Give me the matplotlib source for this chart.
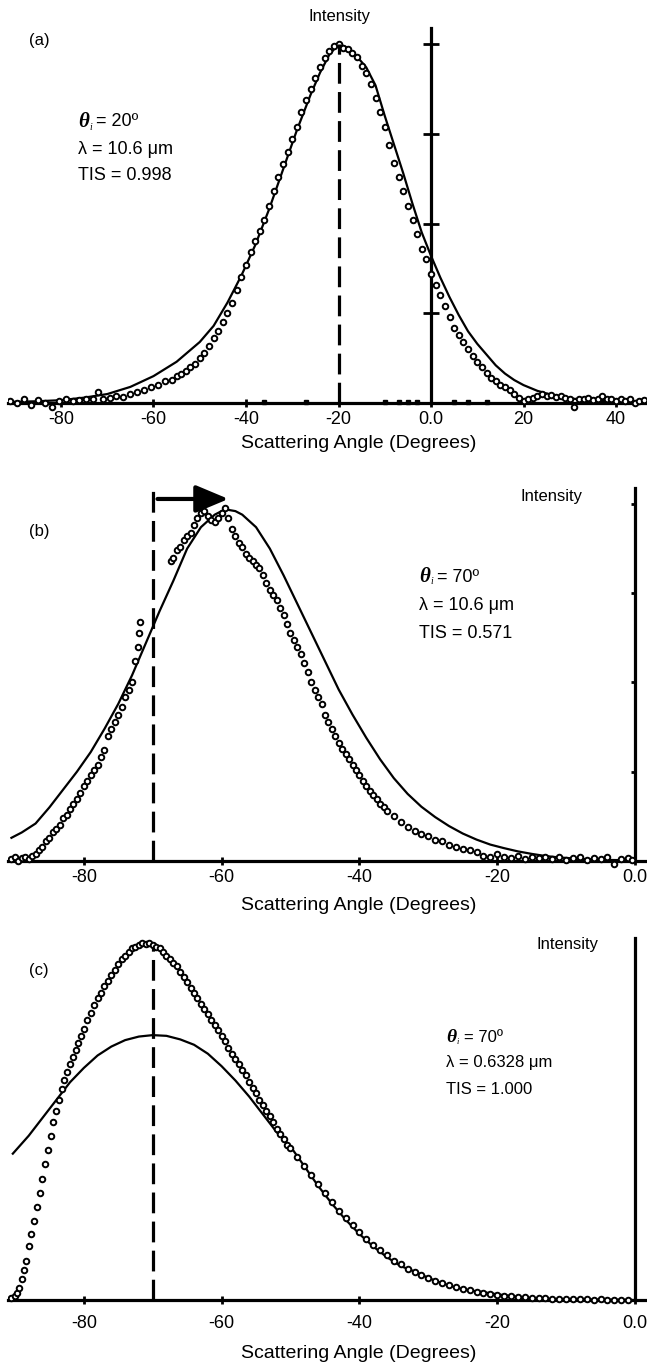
import matplotlib
matplotlib.use("Agg")
import matplotlib.pyplot as plt

plt.rcParams['font.family'] = ['Liberation Sans', 'DejaVu Sans']
plt.rcParams['axes.unicode_minus'] = False

# ---- panel (a): theta_i = 20 deg, lambda = 10.6 um ----
a_data_x = [-91, -89.5, -88, -86.5, -85, -83.5, -82, -80.5, -79, -77.5, -76, -74.5, -73, -72, -71,
            -69.5, -68, -66.5, -65, -63.5, -62, -60.5, -59, -57.5, -56, -55, -54, -53, -52, -51,
            -50, -49, -48, -47, -46, -45, -44, -43, -42, -41, -40, -39, -38, -37, -36, -35, -34,
            -33, -32, -31, -30, -29, -28, -27, -26, -25, -24, -23, -22, -21, -20, -19, -18, -17,
            -16, -15, -14, -13, -12, -11, -10, -9, -8, -7, -6, -5, -4, -3, -2, -1, 0, 1, 2, 3, 4,
            5, 6, 7, 8, 9, 10, 11, 12, 13, 14, 15, 16, 17, 18, 19, 20, 21, 22, 23, 24, 25, 26, 27,
            28, 29, 30, 31, 32, 33, 34, 35, 36, 37, 38, 39, 40, 41, 42, 43, 44, 45, 46]
a_data_y = [0.005, 0.0, 0.01, -0.005, 0.008, 0.0, -0.01, 0.005, 0.01, 0.005, 0.008, 0.01, 0.012, 0.03,
            0.012, 0.015, 0.02, 0.018, 0.025, 0.03, 0.035, 0.045, 0.05, 0.06, 0.065, 0.075, 0.08,
            0.09, 0.1, 0.11, 0.125, 0.14, 0.16, 0.18, 0.2, 0.225, 0.25, 0.28, 0.315, 0.35, 0.385,
            0.42, 0.45, 0.48, 0.51, 0.55, 0.59, 0.63, 0.665, 0.7, 0.735, 0.77, 0.81, 0.845, 0.875,
            0.905, 0.935, 0.96, 0.98, 0.995, 1.0, 0.99, 0.985, 0.975, 0.965, 0.94, 0.92, 0.89, 0.85,
            0.81, 0.77, 0.72, 0.67, 0.63, 0.59, 0.55, 0.51, 0.47, 0.43, 0.4, 0.36, 0.33, 0.3, 0.27,
            0.24, 0.21, 0.19, 0.17, 0.15, 0.13, 0.115, 0.1, 0.085, 0.07, 0.06, 0.05, 0.045, 0.035,
            0.025, 0.015, 0.005, 0.01, 0.015, 0.02, 0.025, 0.02, 0.022, 0.018, 0.02, 0.015, 0.01,
            -0.012, 0.012, 0.01, 0.015, 0.008, 0.012, 0.02, 0.01, 0.012, 0.005, 0.01, 0.005, 0.01,
            0.0, 0.005, 0.008]
a_base_x = [-36, -27, -10, -7, -5, -3, 5, 8, 12]
a_base_y = [0.003, 0.004, 0.002, 0.004, 0.003, 0.004, 0.002, 0.003, 0.004]
a_fit_x = [-91.5, -85, -80, -75, -70, -65, -60, -55, -50, -47, -44, -41, -38, -35, -32, -29, -26,
           -24, -22, -20, -18, -16, -14, -12, -10, -8, -6, -4, -2, 0, 2, 4, 6, 8, 10, 12, 14, 16,
           18, 20, 23, 26, 30, 35, 40, 46.5]
a_fit_y = [0.003, 0.005, 0.008, 0.015, 0.025, 0.045, 0.075, 0.115, 0.17, 0.215, 0.28, 0.355, 0.44,
           0.54, 0.65, 0.76, 0.86, 0.92, 0.97, 1.0, 0.99, 0.965, 0.935, 0.885, 0.8, 0.72, 0.64,
           0.555, 0.475, 0.41, 0.35, 0.295, 0.245, 0.2, 0.165, 0.135, 0.105, 0.082, 0.064, 0.05,
           0.034, 0.023, 0.013, 0.007, 0.004, 0.002]

# ---- panel (b): theta_i = 70 deg, lambda = 10.6 um ----
b_data_x = [-90.5, -90, -89.5, -89, -88.5, -88, -87.5, -87, -86.5, -86, -85.5, -85, -84.5, -84,
            -83.5, -83, -82.5, -82, -81.5, -81, -80.5, -80, -79.5, -79, -78.5, -78, -77.5, -77,
            -76.5, -76, -75.5, -75, -74.5, -74, -73.5, -73, -72.5, -72.2, -72, -71.8,
            -67.3, -67, -66.5, -66, -65.5, -65, -64.5, -64, -63.5, -63, -62.5, -62, -61.5, -61,
            -60.5, -60, -59.5, -59, -58.5, -58, -57.5, -57, -56.5, -56, -55.5, -55, -54.5, -54,
            -53.5, -53, -52.5, -52, -51.5, -51, -50.5, -50, -49.5, -49, -48.5, -48, -47.5, -47,
            -46.5, -46, -45.5, -45, -44.5, -44, -43.5, -43, -42.5, -42, -41.5, -41, -40.5, -40,
            -39.5, -39, -38.5, -38, -37.5, -37, -36.5, -36, -35, -34, -33, -32, -31, -30, -29,
            -28, -27, -26, -25, -24, -23, -22, -21, -20, -19, -18, -17, -16, -15, -14, -13, -12,
            -11, -10, -9, -8, -7, -6, -5, -4, -3, -2, -1, -0.5]
b_data_y = [0.005, 0.01, 0.0, 0.008, 0.012, 0.005, 0.015, 0.02, 0.03, 0.04, 0.055, 0.065, 0.08,
            0.09, 0.1, 0.12, 0.13, 0.145, 0.16, 0.175, 0.19, 0.21, 0.225, 0.24, 0.255, 0.27, 0.29,
            0.31, 0.35, 0.37, 0.39, 0.41, 0.43, 0.46, 0.48, 0.5, 0.56, 0.6, 0.64, 0.67,
            0.84, 0.85, 0.87, 0.88, 0.9, 0.91, 0.92, 0.94, 0.96, 0.975, 0.98, 0.965, 0.955, 0.95,
            0.96, 0.975, 0.99, 0.96, 0.93, 0.91, 0.89, 0.88, 0.86, 0.85, 0.84, 0.83, 0.82, 0.8,
            0.78, 0.76, 0.745, 0.73, 0.71, 0.69, 0.665, 0.64, 0.62, 0.6, 0.58, 0.555, 0.53, 0.5,
            0.48, 0.46, 0.44, 0.41, 0.39, 0.37, 0.35, 0.33, 0.315, 0.3, 0.285, 0.27, 0.255, 0.24,
            0.225, 0.21, 0.195, 0.185, 0.175, 0.16, 0.15, 0.14, 0.125, 0.11, 0.095, 0.085, 0.075,
            0.07, 0.06, 0.055, 0.045, 0.04, 0.035, 0.03, 0.025, 0.015, 0.01, 0.02, 0.012, 0.008,
            0.015, 0.005, 0.01, 0.008, 0.012, 0.005, 0.01, 0.004, 0.008, 0.01, 0.003, 0.008, 0.005,
            0.01, -0.008, 0.005, 0.008, 0.004]
b_fit_x = [-90.5, -89, -87, -85, -83, -81, -79, -77, -75, -73, -71, -69, -67, -65, -63, -61,
           -59.5, -58, -57, -55, -53, -51, -49, -47, -45, -43, -41, -39, -37, -35, -33, -31, -29,
           -27, -25, -23, -21, -19, -17, -15, -13, -11, -8, -4, 0]
b_fit_y = [0.065, 0.08, 0.105, 0.15, 0.2, 0.25, 0.305, 0.37, 0.44, 0.52, 0.61, 0.7, 0.785, 0.875,
           0.935, 0.97, 0.985, 0.98, 0.97, 0.935, 0.875, 0.8, 0.72, 0.64, 0.56, 0.48, 0.41,
           0.345, 0.285, 0.232, 0.188, 0.152, 0.123, 0.098, 0.077, 0.06, 0.046, 0.036, 0.027,
           0.02, 0.014, 0.01, 0.006, 0.003, 0.002]

# ---- panel (c): theta_i = 70 deg, lambda = 0.6328 um ----
c_data_x = [-90.5, -90, -89.7, -89.4, -89, -88.7, -88.4, -88, -87.6, -87.2, -86.8, -86.4, -86,
            -85.6, -85.2, -84.8, -84.4, -84, -83.6, -83.2, -82.8, -82.4, -82, -81.6, -81.2,
            -80.8, -80.4, -80, -79.5, -79, -78.5, -78, -77.5, -77, -76.5, -76, -75.5, -75, -74.5,
            -74, -73.5, -73, -72.5, -72, -71.5, -71, -70.5, -70, -69.5, -69, -68.5, -68, -67.5,
            -67, -66.5, -66, -65.5, -65, -64.5, -64, -63.5, -63, -62.5, -62, -61.5, -61, -60.5,
            -60, -59.5, -59, -58.5, -58, -57.5, -57, -56.5, -56, -55.5, -55, -54.5, -54, -53.5,
            -53, -52.5, -52, -51.5, -51, -50.5, -50, -49, -48, -47, -46, -45, -44, -43, -42, -41,
            -40, -39, -38, -37, -36, -35, -34, -33, -32, -31, -30, -29, -28, -27, -26, -25, -24,
            -23, -22, -21, -20, -19, -18, -17, -16, -15, -14, -13, -12, -11, -10, -9, -8, -7, -6,
            -5, -4, -3, -2, -1]
c_data_y = [0.005, 0.01, 0.02, 0.035, 0.06, 0.085, 0.11, 0.15, 0.185, 0.22, 0.26, 0.3, 0.34,
            0.38, 0.42, 0.46, 0.5, 0.53, 0.56, 0.59, 0.615, 0.64, 0.66, 0.68, 0.7, 0.72, 0.74,
            0.76, 0.785, 0.805, 0.825, 0.845, 0.86, 0.88, 0.895, 0.91, 0.925, 0.94, 0.955, 0.965,
            0.975, 0.985, 0.99, 0.995, 1.0, 0.998, 1.0, 0.995, 0.99, 0.985, 0.975, 0.965, 0.955,
            0.945, 0.935, 0.92, 0.905, 0.89, 0.875, 0.86, 0.845, 0.83, 0.815, 0.8, 0.785, 0.77,
            0.755, 0.74, 0.725, 0.705, 0.69, 0.675, 0.66, 0.645, 0.63, 0.61, 0.595, 0.58, 0.56,
            0.545, 0.53, 0.515, 0.5, 0.48, 0.465, 0.45, 0.435, 0.425, 0.4, 0.375, 0.35, 0.325, 0.3,
            0.275, 0.25, 0.23, 0.21, 0.19, 0.17, 0.155, 0.14, 0.125, 0.11, 0.1, 0.088, 0.078, 0.07,
            0.062, 0.054, 0.047, 0.041, 0.036, 0.031, 0.027, 0.023, 0.02, 0.017, 0.015, 0.012,
            0.01, 0.009, 0.008, 0.006, 0.005, 0.005, 0.004, 0.003, 0.003, 0.002, 0.004, 0.002,
            0.001, 0.002, 0.001, 0.0, 0.001, 0.0]
c_fit_x = [-90.3, -88, -86, -84, -82, -80, -78, -76, -74, -72, -70, -68, -66, -64, -62, -60, -58,
           -56, -54, -52, -50, -48, -46, -44, -42, -40, -38, -36, -34, -32, -30, -28, -26, -24,
           -22, -20, -17, -14, -10, -5, 0]
c_fit_y = [0.41, 0.46, 0.51, 0.56, 0.61, 0.65, 0.685, 0.71, 0.728, 0.738, 0.742, 0.74, 0.73,
           0.715, 0.69, 0.655, 0.615, 0.57, 0.52, 0.47, 0.43, 0.375, 0.32, 0.27, 0.225, 0.185,
           0.15, 0.12, 0.095, 0.08, 0.062, 0.047, 0.035, 0.027, 0.022, 0.016, 0.009, 0.004,
           0.002, 0.001, 0.0]

specular_angle = {'a': -20, 'b': -70, 'c': -70}
params = {'a': ('20º', '10.6 μm', '0.998'),
          'b': ('70º', '10.6 μm', '0.571'),
          'c': ('70º', '0.6328 μm', '1.000')}

W, H = 647, 1363
fig = plt.figure(figsize=(W / 100, H / 100), dpi=100)


def px_rect(x0, x1, ytop, ybot):
    return [x0 / W, 1 - ybot / H, (x1 - x0) / W, (ybot - ytop) / H]


def ftext(x, y, s, **kw):
    kw.setdefault('ha', 'left')
    kw.setdefault('va', 'center')
    fig.text(x / W, 1 - y / H, s, **kw)


def setup(ax, xlim, ylim, xticks, xlabels, axis_top, tick_pad, yticks_len, ytick_dir):
    ax.set_xlim(*xlim)
    ax.set_ylim(*ylim)
    ax.patch.set_visible(False)
    for s in ('top', 'right'):
        ax.spines[s].set_visible(False)
    ax.spines['bottom'].set_position(('data', 0))
    ax.spines['left'].set_position(('data', 0))
    ax.spines['left'].set_bounds(0, axis_top)
    for s in ('bottom', 'left'):
        ax.spines[s].set_linewidth(2.3)
    ax.set_xticks(xticks)
    ax.set_xticklabels(xlabels)
    ax.tick_params(axis='x', direction='inout', length=6, width=2, labelsize=13, pad=tick_pad)
    if yticks_len:
        ax.set_yticks([0.25, 0.5, 0.75, 1.0])
        ax.tick_params(axis='y', direction=ytick_dir, length=yticks_len, width=2, labelleft=False)
    else:
        ax.set_yticks([])


def draw(ax, dx, dy, fx, fy, spec, dash_top):
    ax.plot(fx, fy, '-', color='black', lw=1.6, zorder=3)
    ax.plot(dx, dy, 'o', ms=4, mfc='white', mec='black', mew=1.4, zorder=4)
    ax.plot([spec, spec], [0, dash_top], color='black', lw=2.3,
            linestyle=(0, (6.5, 2.6)), zorder=5)


def param_block(x, y, key, dy, size):
    th, lam, tis = params[key]
    ftext(x, y, 'θ', family='Liberation Serif', fontweight='bold', style='italic', fontsize=size + 2)
    ftext(x + 11, y + 5, 'i', family='Liberation Serif', style='italic', fontsize=size - 6)
    ftext(x + 18, y, '= ' + th, fontsize=size)
    ftext(x, y + dy, 'λ = ' + lam, fontsize=size)
    ftext(x, y + 2 * dy, 'TIS = ' + tis, fontsize=size)


ticks_a = [-80, -60, -40, -20, 0, 20, 40]
labels_a = ['-80', '-60', '-40', '-20', '0.0', '20', '40']
ticks_bc = [-80, -60, -40, -20, 0]
labels_bc = ['-80', '-60', '-40', '-20', '0.0']

# (a)
ax_a = fig.add_axes(px_rect(7.8, 647, 22.5, 417.4))
setup(ax_a, (-91.5, 46.7), (-0.04, 1.06), ticks_a, labels_a, 1.045, 3, 12, 'inout')
draw(ax_a, a_data_x, a_data_y, a_fit_x, a_fit_y, specular_angle['a'], 1.0)
ax_a.plot(a_base_x, a_base_y, 's', ms=2.5, color='black', zorder=4)
ftext(29, 40, '(a)', fontsize=12)
ftext(339, 17, 'Intensity', ha='center', fontsize=12)
ftext(359, 443, 'Scattering Angle (Degrees)', ha='center', fontsize=14)
param_block(78, 122, 'a', 27, 13)

# (b)
ax_b = fig.add_axes(px_rect(8, 647, 475.4, 875.3))
setup(ax_b, (-91, 1.74), (-0.04, 1.08), ticks_bc, labels_bc, 1.045, 3, 3, 'out')
draw(ax_b, b_data_x, b_data_y, b_fit_x, b_fit_y, specular_angle['b'], 1.045)
ax_b.annotate('', xy=(-59, 1.014), xytext=(-69.3, 1.014),
              arrowprops=dict(arrowstyle='-|>,head_length=1.0,head_width=0.42', lw=3,
                              color='black', mutation_scale=20, shrinkA=0, shrinkB=0))
ftext(29, 532, '(b)', fontsize=12)
ftext(552, 497, 'Intensity', ha='center', fontsize=12)
ftext(359, 906, 'Scattering Angle (Degrees)', ha='center', fontsize=14)
param_block(419, 577, 'b', 28, 13)

# (c)
ax_c = fig.add_axes(px_rect(8, 647, 921.6, 1314.3))
setup(ax_c, (-91, 1.74), (-0.04, 1.06), ticks_bc, labels_bc, 1.014, 8, 0, 'out')
draw(ax_c, c_data_x, c_data_y, c_fit_x, c_fit_y, specular_angle['c'], 0.99)
ftext(29, 970, '(c)', fontsize=12)
ftext(568, 945, 'Intensity', ha='center', fontsize=12)
ftext(359, 1353, 'Scattering Angle (Degrees)', ha='center', fontsize=14)
param_block(446, 1037, 'c', 26, 12)

fig.savefig('out.png', dpi=100)
